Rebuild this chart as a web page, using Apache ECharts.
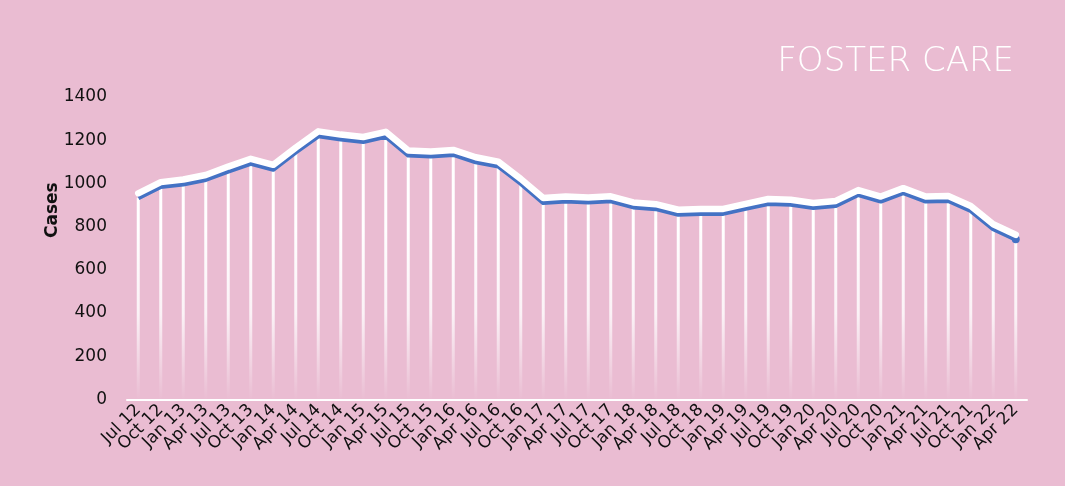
<!DOCTYPE html>
<html>
<head>
<meta charset="utf-8">
<script src="https://cdn.jsdelivr.net/npm/echarts@6/dist/echarts.min.js"></script>
<style>
  html, body { margin: 0; padding: 0; background: #EABCD2; }
  #chart { width: 1065px; height: 486px; }
</style>
</head>
<body>
<div id="chart"></div>
<script>
// Quarterly foster care caseload, Jul 2012 – Apr 2022
const quarters = [
  'Jul 12', 'Oct 12', 'Jan 13', 'Apr 13', 'Jul 13', 'Oct 13', 'Jan 14', 'Apr 14',
  'Jul 14', 'Oct 14', 'Jan 15', 'Apr 15', 'Jul 15', 'Oct 15', 'Jan 16', 'Apr 16',
  'Jul 16', 'Oct 16', 'Jan 17', 'Apr 17', 'Jul 17', 'Oct 17', 'Jan 18', 'Apr 18',
  'Jul 18', 'Oct 18', 'Jan 19', 'Apr 19', 'Jul 19', 'Oct 19', 'Jan 20', 'Apr 20',
  'Jul 20', 'Oct 20', 'Jan 21', 'Apr 21', 'Jul 21', 'Oct 21', 'Jan 22', 'Apr 22'
];
const cases = [
  933, 985, 997, 1018, 1057, 1093, 1065, 1145,
  1220, 1205, 1194, 1218, 1131, 1127, 1134, 1100,
  1080, 1000, 911, 918, 914, 919, 891, 883,
  857, 860, 861, 884, 907, 903, 888, 898,
  948, 918, 957, 918, 921, 874, 790, 741
];
const yTicks = { min: 0, max: 1400, interval: 200 };

// the white highlight band sits a few pixels above the blue line
const liftPx = 4.5;
const plotTop = 97, plotBottom = 399.3;
const lift = liftPx * (yTicks.max - yTicks.min) / (plotBottom - plotTop);

const last = cases.length - 1;
const chart = echarts.init(document.getElementById('chart'), null, { renderer: 'canvas' });

chart.setOption({
  backgroundColor: '#EABCD2',
  animation: false,
  title: {
    text: 'FOSTER CARE',
    right: 46,
    top: 40,
    textStyle: {
      color: '#ffffff',
      fontFamily: 'DejaVu Sans',
      fontWeight: 200,
      fontSize: 34
    }
  },
  grid: {
    left: 127, right: 38, top: plotTop, bottom: 486 - plotBottom,
    containLabel: false,
    outerBoundsMode: 'none'
  },
  xAxis: {
    type: 'category',
    data: quarters,
    boundaryGap: true,
    axisLine: { show: true, lineStyle: { color: '#ffffff', width: 2 } },
    axisTick: { show: false },
    axisLabel: {
      interval: 0,
      rotate: 45,
      margin: 8,
      color: '#111111',
      fontFamily: 'DejaVu Sans',
      fontSize: 17
    },
    splitLine: { show: false }
  },
  yAxis: [
    {
      type: 'value',
      min: yTicks.min,
      max: yTicks.max,
      interval: yTicks.interval,
      name: 'Cases',
      nameLocation: 'middle',
      nameGap: 66,
      nameRotate: 90,
      nameMoveOverlap: false,
      nameTextStyle: {
        color: '#111111',
        fontFamily: 'DejaVu Sans',
        fontWeight: 'bold',
        fontSize: 17,
        padding: [0, 0, 0, 76]
      },
      axisLine: { show: false },
      axisTick: { show: false },
      splitLine: { show: false },
      axisLabel: {
        margin: 20,
        color: '#111111',
        fontFamily: 'DejaVu Sans',
        fontSize: 17,
        formatter: (v) => String(v)
      }
    },
    {
      type: 'value',
      show: false,
      min: yTicks.min - lift,
      max: yTicks.max - lift
    }
  ],
  series: [
    {
      name: 'drop',
      type: 'bar',
      data: cases,
      barWidth: 3,
      z: 1,
      silent: true,
      itemStyle: {
        color: {
          type: 'linear', global: true,
          x: 0, y: 230, x2: 0, y2: 398,
          colorStops: [
            { offset: 0, color: 'rgba(255,255,255,1)' },
            { offset: 0.5, color: 'rgba(255,255,255,0.8)' },
            { offset: 1, color: 'rgba(255,255,255,0.02)' }
          ]
        }
      }
    },
    {
      name: 'Cases',
      type: 'line',
      data: cases,
      z: 2,
      showSymbol: true,
      showAllSymbol: true,
      symbol: 'circle',
      symbolSize: (v, p) => (p.dataIndex === last ? 8 : 0),
      itemStyle: { color: '#4472C4' },
      lineStyle: { color: '#4472C4', width: 5, cap: 'butt', join: 'round' }
    },
    {
      name: 'highlight',
      type: 'line',
      yAxisIndex: 1,
      data: cases,
      z: 3,
      silent: true,
      showSymbol: false,
      lineStyle: { color: '#ffffff', width: 6.5, cap: 'round', join: 'round' }
    }
  ]
});
</script>
</body>
</html>
